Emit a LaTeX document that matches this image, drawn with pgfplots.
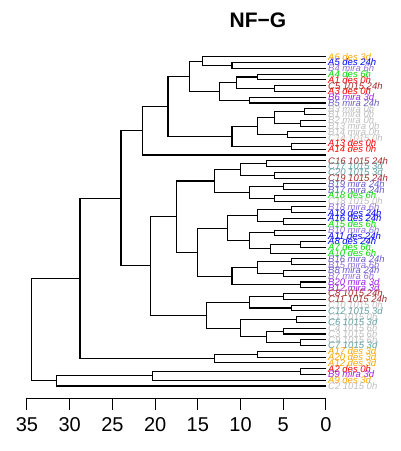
\documentclass[border=0pt]{standalone}
\usepackage{pgfplots}
\pgfplotsset{compat=1.18}
\usepackage{fontspec}
\setmainfont{Liberation Sans}
\definecolor{cOr}{HTML}{FFA500}
\definecolor{cBl}{HTML}{0000FF}
\definecolor{cMp}{HTML}{9370DB}
\definecolor{cGr}{HTML}{00E000}
\definecolor{cRd}{HTML}{FF0000}
\definecolor{cBr}{HTML}{A52A2A}
\definecolor{cSl}{HTML}{6A5ACD}
\definecolor{cPu}{HTML}{A020F0}
\definecolor{cTe}{HTML}{5F9EA0}
\definecolor{cGy}{HTML}{BEBEBE}
\newcommand\mg[5]{\addplot[black, line width=1.1pt] coordinates {(#1,#2) (#3,#2) (#3,#5) (#4,#5)};}
\newcommand\lb[3]{\node[anchor=west, inner sep=0pt, xshift=2pt, text=#2, font=\fontsize{9.5}{10}\selectfont\itshape] at (axis cs:0,#1) {#3};}
\begin{document}
\begin{tikzpicture}
\begin{axis}[
 scale only axis, width=299pt, height=347pt,
 xmin=0, xmax=35, x dir=reverse,
 ymin=0, ymax=60.08, y dir=reverse,
 axis x line=bottom, axis y line=none,
 x axis line style={-, line width=1pt},
 xtick={0,5,...,35}, tick align=outside, major tick length=12pt,
 tick style={line width=1pt, black},
 xticklabel style={font=\fontsize{20}{20}\selectfont, yshift=-4pt},
 /pgf/number format/assume math mode=true,
 clip=false,
]
% top group
\mg{0}{2}{11}{0}{3}
\mg{0}{1}{14.5}{11}{2.5}
\mg{0}{4}{8}{0}{5}
\mg{0}{6}{6}{0}{7}
\mg{8}{4.5}{10.5}{6}{6.5}
\mg{0}{8}{9}{0}{9}
\mg{10.5}{5.5}{12.5}{9}{8.5}
\mg{14.5}{1.75}{16}{12.5}{7}
% gray group
\mg{0}{10}{2.5}{0}{11}
\mg{0}{12}{3}{0}{13}
\mg{2.5}{10.5}{6}{3}{12.5}
\mg{0}{14}{4.5}{0}{15}
\mg{6}{11.5}{8}{4.5}{14.5}
\mg{0}{16}{4}{0}{17}
\mg{8}{13}{11}{4}{16.5}
\mg{16}{4.375}{18.5}{11}{14.75}
\mg{18.5}{9.5625}{21.5}{0}{18}
% middle group
\mg{0}{19}{7}{0}{20}
\mg{0}{21}{6}{0}{22}
\mg{7}{19.5}{10}{6}{21.5}
\mg{0}{23}{5}{0}{24}
\mg{0}{25}{6}{0}{26}
\mg{5}{23.5}{9}{6}{25.5}
\mg{10}{20.5}{13}{9}{24.5}
\mg{0}{27}{4}{0}{28}
\mg{0}{29}{5}{0}{30}
\mg{4}{27.5}{8}{5}{29.5}
\mg{0}{31}{6}{0}{32}
\mg{0}{33}{3}{0}{34}
\mg{3}{33.5}{6.5}{0}{35}
\mg{6}{31.5}{9}{6.5}{34.25}
\mg{8}{28.5}{11.5}{9}{32.875}
\mg{0}{36}{4}{0}{37}
\mg{0}{38}{5}{0}{39}
\mg{4}{36.5}{8}{5}{38.5}
\mg{0}{40}{3}{0}{41}
\mg{8}{37.5}{11}{3}{40.5}
\mg{11.5}{30.6875}{15}{11}{39}
\mg{13}{22.5}{17.5}{15}{34.84375}
% C group
\mg{0}{42}{5}{0}{43}
\mg{0}{44}{4}{0}{45}
\mg{5}{42.5}{9}{4}{44.5}
\mg{0}{46}{3.5}{0}{47}
\mg{0}{48}{5}{0}{49}
\mg{0}{50}{3}{0}{51}
\mg{5}{48.5}{7}{3}{50.5}
\mg{3.5}{46.5}{10}{7}{49.5}
\mg{9}{43.5}{14}{10}{48}
\mg{17.5}{28.671875}{20.5}{14}{45.75}
\mg{21.5}{13.78125}{24}{20.5}{37.2109}
% A 3d group
\mg{0}{52}{8}{0}{53}
\mg{8}{52.5}{13}{0}{54}
\mg{24}{25.496}{28.8}{13}{53.25}
% bottom
\mg{0}{55}{3}{0}{56}
\mg{3}{55.5}{20.3}{0}{57}
\mg{20.3}{56.25}{31.5}{0}{58}
\mg{28.8}{39.373}{34.5}{31.5}{57.125}
% labels
\lb{1}{cOr}{A6 des 3d}
\lb{2}{cBl}{A5 des 24h}
\lb{3}{cMp}{B4 mira 6h}
\lb{4}{cGr}{A4 des 6h}
\lb{5}{cRd}{A1 des 0h}
\lb{6}{cBr}{C5 1015 24h}
\lb{7}{cRd}{A3 des 0h}
\lb{8}{cPu}{B6 mira 3d}
\lb{9}{cSl}{B5 mira 24h}
\lb{10}{cGy}{B3 mira 0h}
\lb{11}{cGy}{B1 mira 0h}
\lb{12}{cGy}{B2 mira 0h}
\lb{13}{cGy}{B13 mira 0h}
\lb{14}{cGy}{B14 mira 0h}
\lb{15}{cGy}{C14 1015 0h}
\lb{16}{cRd}{A13 des 0h}
\lb{17}{cRd}{A14 des 0h}
\lb{18}{white}{C13 1015 0h}
\lb{19}{cBr}{C16 1015 24h}
\lb{20}{cTe}{C17 1015 3d}
\lb{21}{cTe}{C20 1015 3d}
\lb{22}{cBr}{C19 1015 24h}
\lb{23}{cSl}{B19 mira 24h}
\lb{24}{cSl}{B17 mira 24h}
\lb{25}{cGr}{A18 des 6h}
\lb{26}{cGy}{C18 1015 0h}
\lb{27}{cMp}{B18 mira 6h}
\lb{28}{cBl}{A19 des 24h}
\lb{29}{cBl}{A16 des 24h}
\lb{30}{cGr}{A15 des 6h}
\lb{31}{cMp}{B10 mira 6h}
\lb{32}{cBl}{A11 des 24h}
\lb{33}{cBl}{A8 des 24h}
\lb{34}{cGr}{A7 des 6h}
\lb{35}{cGr}{A10 des 6h}
\lb{36}{cSl}{B16 mira 24h}
\lb{37}{cMp}{B15 mira 6h}
\lb{38}{cSl}{B8 mira 24h}
\lb{39}{cMp}{B7 mira 6h}
\lb{40}{cPu}{B20 mira 3d}
\lb{41}{cPu}{B12 mira 3d}
\lb{42}{cBr}{C8 1015 24h}
\lb{43}{cBr}{C11 1015 24h}
\lb{44}{cGy}{C10 1015 0h}
\lb{45}{cTe}{C12 1015 3d}
\lb{46}{cGy}{C1 1015 0h}
\lb{47}{cTe}{C6 1015 3d}
\lb{48}{cGy}{C4 1015 6h}
\lb{49}{cGy}{C3 1015 6h}
\lb{50}{cGy}{C9 1015 6h}
\lb{51}{cTe}{C7 1015 3d}
\lb{52}{cOr}{A17 des 3d}
\lb{53}{cOr}{A20 des 3d}
\lb{54}{cOr}{A12 des 3d}
\lb{55}{cRd}{A2 des 0h}
\lb{56}{cPu}{B9 mira 3d}
\lb{57}{cOr}{A9 des 3d}
\lb{58}{cGy}{C2 1015 0h}
\end{axis}
\node[font=\fontsize{21}{21}\selectfont\bfseries] at ([shift={(231pt,378pt)}]current axis.south west) {NF−G};
\pgfresetboundingbox
\path[use as bounding box] ([shift={(-27pt,-53pt)}]current axis.south west) rectangle ([shift={(373pt,398pt)}]current axis.south west);
\end{tikzpicture}
\end{document}
